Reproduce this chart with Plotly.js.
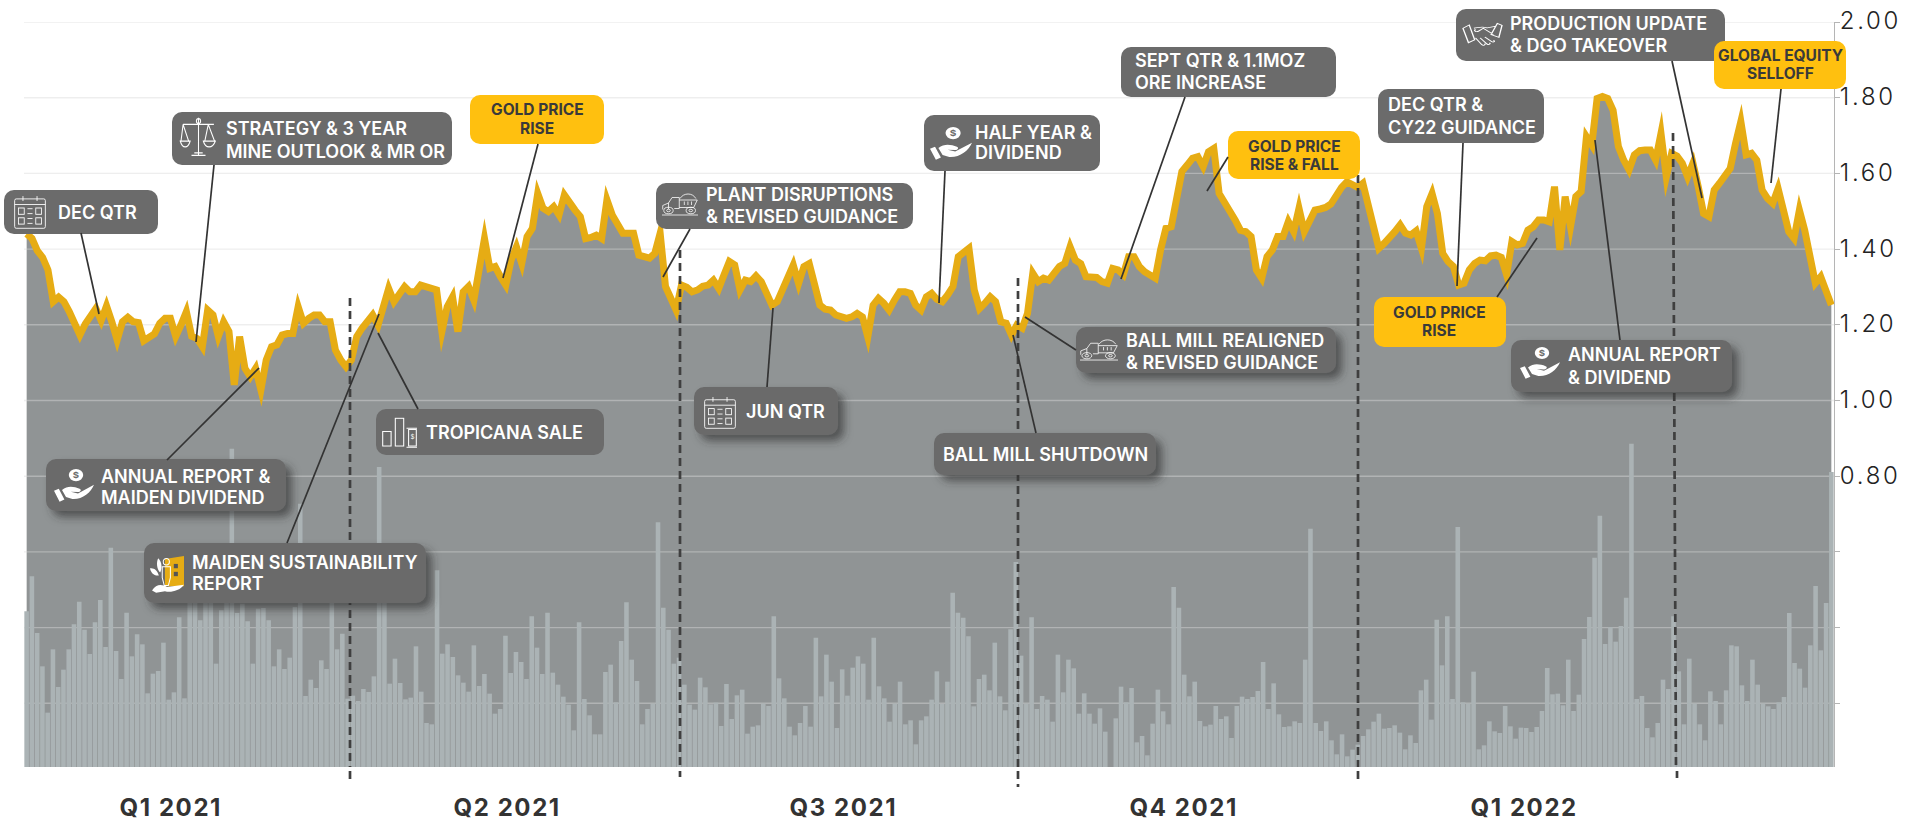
<!DOCTYPE html>
<html><head><meta charset="utf-8">
<script src="https://cdn.plot.ly/plotly-3.0.1.min.js"></script>
<style>
html,body{margin:0;padding:0;background:#fff;overflow:hidden}
#chart{width:1915px;height:823px}
.js-plotly-plot .plotly .main-svg path.js-line{stroke-miterlimit:7}
.ytick text{letter-spacing:2.7px}
</style></head><body><div id="chart"></div>
<script>
// ---------- data ----------
const price = [1.440,1.428,1.396,1.378,1.345,1.261,1.273,1.261,1.235,1.202,1.173,1.202,1.222,1.243,1.211,1.250,1.208,1.160,1.208,1.220,1.208,1.206,1.158,1.170,1.176,1.204,1.217,1.217,1.169,1.200,1.235,1.170,1.164,1.142,1.239,1.226,
1.169,1.208,1.182,1.041,1.169,1.085,1.063,1.085,1.028,1.107,1.142,1.147,1.173,1.177,1.177,1.248,1.204,1.217,1.226,1.226,1.208,1.208,1.133,1.107,1.089,1.107,1.169,1.191,1.208,1.226,1.199,1.257,1.296,1.261,1.279,
1.301,1.287,1.287,1.305,1.301,1.294,1.292,1.182,1.248,1.274,1.182,1.287,1.301,1.265,1.354,1.428,1.349,1.354,1.327,1.305,1.371,1.406,1.362,1.433,1.455,1.547,1.508,1.499,1.512,1.490,1.543,1.521,1.503,1.486,1.428,1.431,1.437,1.428,1.530,1.490,1.468,1.442,1.442,1.442,1.384,1.380,1.376,1.389,1.442,1.301,1.270,1.239,1.305,1.299,1.287,1.292,1.302,1.305,1.318,1.296,1.332,1.367,1.358,1.292,1.318,1.314,1.329,1.314,1.283,1.252,1.261,1.292,1.323,1.358,1.309,1.354,1.362,1.309,1.252,1.241,1.239,1.226,1.223,1.217,1.221,1.230,1.221,1.168,1.252,1.270,1.257,1.239,1.265,1.287,
1.287,1.283,1.252,1.239,1.274,1.283,1.267,1.261,1.279,1.301,1.380,1.393,1.402,1.292,1.243,1.257,1.274,1.261,1.208,1.204,1.173,1.199,1.191,1.230,1.336,1.314,1.323,1.318,1.336,1.354,1.362,1.406,1.371,1.362,1.327,1.327,1.325,1.314,1.310,1.349,1.345,1.332,1.380,1.380,1.354,1.340,1.329,1.323,1.398,1.455,1.459,1.530,1.605,1.622,1.640,1.644,1.618,1.657,1.666,1.547,1.525,1.503,1.477,1.450,1.446,1.433,1.345,1.323,1.380,1.398,1.433,1.433,1.473,1.446,1.508,1.446,1.477,1.503,1.506,1.510,1.519,1.543,1.563,1.578,1.569,1.563,1.574,1.521,1.455,1.402,1.415,1.428,1.446,1.464,
1.442,1.437,1.448,1.402,1.512,1.547,1.494,1.389,1.367,1.354,1.305,1.310,1.345,1.362,1.371,1.369,1.382,1.384,1.378,1.332,1.420,1.411,1.415,1.450,1.459,1.477,1.477,1.472,1.565,1.398,1.539,1.459,1.539,1.552,1.697,1.675,1.798,1.803,1.798,1.767,1.671,1.635,1.609,1.649,1.660,1.662,1.662,1.635,1.706,1.591,1.653,1.646,1.627,1.591,1.627,1.565,1.494,1.486,1.556,1.574,1.596,1.613,1.679,1.737,1.649,1.653,1.635,1.556,1.534,1.521,1.560,1.494,1.446,1.428,1.503,1.450,1.380,1.310,1.327,1.292,1.252];
const volume = [46.7,57.2,40.2,30.2,16.3,35.3,24,29.2,35.3,42.8,49.6,41.2,33.9,43.4,50.1,36,65.8,34.8,26.4,46.3,33.2,39.8,36.8,22.1,28,28.8,37.3,20.2,22.4,44.9,20.6,51,51,44,51,61,31,47,50,95.5,46.2,49,43.7,31,47.5,47.7,44,30.2,35.3,29.4,32.8,48,79,21.3,26.2,23.7,32,29.4,50,35.3,40,20.5,21.4,19.8,23.4,22.5,27.2,90,50,25,32.5,25.2,20.3,20.8,36.2,22.6,13.2,12.8,59,34,36.8,33,27.5,25.3,22.6,36.5,
24.3,27.9,22,16,17.4,39.4,28.2,34.5,31.5,26.4,45.2,35.8,27.9,46.3,28.3,24.7,21.1,18.7,11,43.4,20.4,15.5,9.8,9.8,28.5,30.7,19.4,37.8,49.4,32.2,25.8,12.8,17.4,19,73.4,47.8,41.2,31,32.8,24.7,18.7,17.2,26.8,23.9,18.8,19.3,12.3,24.9,14.4,21.5,23.2,10,12.1,12.5,19,18.3,45.2,26.6,20.6,12.1,9.5,13.2,18.3,12.1,38.8,21.2,33.7,25.6,11.7,29.3,21.4,29.8,33.2,31,20.2,38.8,24.2,20.6,13.6,19,25.6,12.8,
14,6.8,14,15.2,20.2,28.7,18.9,25.6,52.3,46.3,44.8,39.2,18.2,26.4,27.7,23,37.3,21.2,17,41.3,61.5,33.4,19,44.9,17.4,21.3,20.2,13.6,33.7,22.4,32.2,29.6,16,22.1,16,13,17.6,10.6,0,14.6,24.1,19.4,23.7,7.4,9.3,3.5,13,23.2,16.7,12.8,54,47.8,27.7,21.2,25.6,13.8,12.2,12.7,18.3,14.4,15.2,8.7,18.3,21.1,20.4,21,22.8,31.5,17.4,25.1,15.8,12,12.2,13.7,13.2,32.2,71.5,13.2,10.8,13.7,
8,3.8,9.8,3.2,5.2,6.7,9.3,11.3,13.6,16,11.5,11.7,12.5,10.3,5.3,9.5,7.2,23,26.2,14.2,44.2,30.5,45.2,20.4,72,19.4,19,28.6,5.3,6.5,13.7,10.7,10.2,18.3,12.2,8.5,11.8,11.7,10.5,12,16.8,29.7,21.8,22,18.5,32.2,16.8,21.7,38.4,45,62.8,75.4,36.9,42,37.6,42.3,50.8,97,20.4,21.3,11.7,8.9,13.2,26.2,23.4,45.2,28.7,12.8,32.5,19,12.8,8,22.7,19.8,12.8,23,36.5,36.2,24.5,19.8,32.2,24.7,19,18.2,17.4,19.4,21,46.2,31.2,29.5,23.8,36.5,54.3,35,49.2,88.5];
const yTickVals = [2,1.8,1.6,1.4,1.2,1,0.8,0.6,0.4,0.2];
const yTickText = ['2.00','1.80','1.60','1.40','1.20','1.00','0.80','','',''];
const quarterLabels = ['Q1 2021','Q2 2021','Q3 2021','Q4 2021','Q1 2022'];

// ---------- layout geometry (page pixels) ----------
const L=24,T=22,W=1810,H=745;
const px=x=>(x-L)/W, py=y=>1-(y-T)/H;
const barN=volume.length;
const barIdx=x=>(x-L)/W*barN-0.5;
const valY=y=>2-(y-22)/378.5;
const quarterLabelPos=[[170,808],[507,808],[843,808],[1183,808],[1524,808]];
const dashes=[[350,350,298,767],[680,680,250,767],[1018,1018,278,767],[1358,1358,175,767],[1673,1676,133,767]];
const dashTails=[[350,771,784],[680,771,777],[1018,771,787],[1358,771,783],[1677,771,778]];

const leaders=[[81,233,99,314],[214,165,196,342],[538,144,503,278],[259,368,167,460],[379,314,287,543],[378,333,418,409],[690,229,663,277],[773,308,767,387],[945,171,939,303],[1185,97,1121,279],[1013,335,1036,433],[1025,317,1076,350],[1228,157,1207,191],[1463,143,1457,286],[1537,238,1497,297],[1672,61,1702,198],[1781,89,1771,183],[1595,140,1620,340]];

// icons: drawn in a 100x100 box, stretched onto page rect
const ST=(sw)=>`fill="none" stroke="#fff" stroke-width="${sw}"`;
const icons={
 cal:(s)=>`<g ${ST(2.6)} vector-effect="non-scaling-stroke"><rect x="2" y="14" width="96" height="84" rx="5"/><path d="M2 30H98M28 6V20M72 6V20"/><rect x="14" y="40" width="18" height="18"/><rect x="68" y="40" width="18" height="18"/><path d="M42 42H58M42 56H58"/><rect x="14" y="68" width="18" height="18"/><rect x="68" y="68" width="18" height="18"/><path d="M42 70H58M42 84H58"/></g>`,
 hand:()=>`<circle cx="55" cy="18" r="18" fill="#fff"/><text x="55" y="27" font-family="Inter" font-size="24" font-weight="700" text-anchor="middle" fill="#6b6b6b">$</text><path fill="#fff" d="M0 64L12 58L26 90L14 96ZM20 62C34 48 50 52 64 58C70 61 66 68 60 68L42 67L60 72L100 46C92 70 70 90 46 88L30 82Z"/>`,
 truck:()=>`<g ${ST(2.6)}><path d="M0 96H100M18 72V48L28 26H48V70H34M48 36H98L88 66H48M50 30C60 6 85 6 94 30M62 42V56M72 42V56M82 42V56"/><path d="M2 74V58L18 48"/><circle cx="18" cy="78" r="13"/><circle cx="18" cy="78" r="5"/><circle cx="80" cy="78" r="13"/><circle cx="80" cy="78" r="5"/></g>`,
 shake:()=>`<g ${ST(3.5)}><path d="M0 22L16 8L30 70L14 82ZM100 10L88 2L72 48L92 60ZM28 22C44 18 48 14 62 20L82 14M78 48L52 22L40 34C34 40 26 32 32 26M32 62L48 90C52 96 58 92 56 86M44 62L62 88C66 92 72 88 68 82M56 58L74 78C78 82 84 76 78 72"/></g>`,
 scale:()=>`<g ${ST(3)}><path d="M50 4V92M30 94H70M38 88H62M6 20H94M6 20L0 60M6 20L22 60M78 20L68 60M78 20L96 60"/><path d="M-2 60C4 78 20 78 26 60ZM64 60C70 78 90 78 98 60Z"/><circle cx="50" cy="12" r="6"/></g>`,
 bars:()=>`<g ${ST(3)}><rect x="2" y="50" width="24" height="44"/><rect x="38" y="10" width="24" height="84"/><rect x="76" y="44" width="22" height="50"/><path d="M70 98H100M70 40H100"/><text x="87" y="74" font-family="Inter" font-size="18" fill="#fff" stroke="none" text-anchor="middle">$</text></g>`,
 sust:()=>`<path fill="#e6ac14" d="M44 8L100 0V84H44Z"/><rect x="70" y="22" width="12" height="12" fill="#555"/><rect x="70" y="44" width="12" height="12" fill="#555"/><g ${ST(3)}><circle cx="48" cy="16" r="9"/><path d="M36 30H60V60L54 82H42L36 60Z"/></g><path fill="#fff" d="M0 34C12 32 22 40 26 54C12 56 2 46 0 34ZM24 6C36 16 36 34 30 46C20 36 18 18 24 6ZM6 96C18 78 34 78 50 86L100 80C86 98 60 102 44 98L18 102Z"/>`
};
const callouts=[
 {b:[4,190,154,44],lines:[['DEC QTR',58,212]],ic:['cal',14,194,32,35]},
 {b:[172,112,280,53],lines:[['STRATEGY & 3 YEAR',226,128],['MINE OUTLOOK & MR OR',226,151]],ic:['scale',181,116,35,42]},
 {b:[470,95,134,49],y:1,lines:[['GOLD PRICE',537,110],['RISE',537,128]]},
 {b:[656,183,257,46],lines:[['PLANT DISRUPTIONS',706,194],['& REVISED GUIDANCE',706,217]],ic:['truck',662,191,36,25]},
 {b:[694,387,144,48],sh:1,lines:[['JUN QTR',746,411]],ic:['cal',704,395,32,34]},
 {b:[924,115,176,56],lines:[['HALF YEAR &',975,132],['DIVIDEND',975,153]],ic:['hand',930,127,42,34]},
 {b:[1121,47,215,50],lines:[['SEPT QTR & 1.1MOZ',1135,61],['ORE INCREASE',1135,83]]},
 {b:[1228,131,132,48],y:1,lines:[['GOLD PRICE',1294,146],['RISE & FALL',1294,164]]},
 {b:[1378,89,166,54],lines:[['DEC QTR &',1388,104],['CY22 GUIDANCE',1388,127]]},
 {b:[1456,9,269,52],lines:[['PRODUCTION UPDATE',1510,24],['& DGO TAKEOVER',1510,46]],ic:['shake',1463,23,39,24]},
 {b:[1714,41,132,48],y:1,lines:[['GLOBAL EQUITY',1780,56],['SELLOFF',1780,74]]},
 {b:[1374,297,132,50],y:1,lines:[['GOLD PRICE',1439,312],['RISE',1439,330]]},
 {b:[1511,340,221,52],sh:1,lines:[['ANNUAL REPORT',1568,354],['& DIVIDEND',1568,377]],ic:['hand',1520,347,40,33]},
 {b:[1076,327,260,46],sh:1,lines:[['BALL MILL REALIGNED',1126,340],['& REVISED GUIDANCE',1126,362]],ic:['truck',1080,337,38,24]},
 {b:[934,433,222,42],sh:1,lines:[['BALL MILL SHUTDOWN',943,454]]},
 {b:[376,409,228,46],sh:0,lines:[['TROPICANA SALE',426,433]],ic:['bars',382,415,35,33]},
 {b:[46,459,240,52],sh:1,lines:[['ANNUAL REPORT &',101,476],['MAIDEN DIVIDEND',101,497]],ic:['hand',54,469,40,34]},
 {b:[144,543,282,60],sh:1,lines:[['MAIDEN SUSTAINABILITY',192,562],['REPORT',192,583]],ic:['sust',150,556,34,36]}
];

const PAD=24;
function boxImage(c){
 const [x,y,w,h]=c.b, fill=c.y?'#FFC00F':'#6B6B6B';
 let svg=`<svg xmlns="http://www.w3.org/2000/svg" width="${w+2*PAD}" height="${h+2*PAD}" viewBox="${x-PAD} ${y-PAD} ${w+2*PAD} ${h+2*PAD}">`;
 if(c.sh) svg+=`<defs><filter id="s" x="-30%" y="-50%" width="160%" height="200%"><feDropShadow dx="6" dy="6" stdDeviation="4" flood-color="#2e3030" flood-opacity="0.65"/></filter></defs>`;
 svg+=`<rect x="${x}" y="${y}" width="${w}" height="${h}" rx="10" ry="10" fill="${fill}"${c.sh?' filter="url(#s)"':''}/>`;
 if(c.ic){const [n,ix,iy,iw,ih]=c.ic; svg+=`<g transform="translate(${ix} ${iy}) scale(${iw/100} ${ih/100})">${icons[n]()}</g>`;}
 svg+='</svg>';
 return {source:'data:image/svg+xml;charset=utf-8,'+encodeURIComponent(svg),xref:'paper',yref:'paper',x:px(x-PAD),y:py(y-PAD),sizex:(w+2*PAD)/W,sizey:(h+2*PAD)/H,xanchor:'left',yanchor:'top',sizing:'stretch',layer:'above'};
}

const annotations=[];
callouts.forEach(c=>c.lines.forEach(l=>annotations.push({
 text:l[0],xref:'paper',yref:'paper',x:px(l[1]-(c.y?0:2)),y:py(l[2]),xanchor:c.y?'center':'left',yanchor:'middle',showarrow:false,
 font:c.y?{family:'Inter',size:15.5,weight:700,color:'#3a3a3a'}:{family:'Inter',size:18,weight:600,color:'#fff'}
})));
quarterLabels.forEach((t,i)=>annotations.push({text:t,xref:'paper',yref:'paper',x:px(quarterLabelPos[i][0]),y:py(quarterLabelPos[i][1]),xanchor:'center',yanchor:'middle',showarrow:false,font:{family:'Inter',size:24,weight:700,color:'#333'}}));

const shapes=leaders.map(l=>({type:'line',xref:'paper',yref:'paper',x0:px(l[0]),y0:py(l[1]),x1:px(l[2]),y1:py(l[3]),line:{color:'#333',width:1.7},layer:'above'}));
dashTails.forEach(d=>shapes.push({type:'line',xref:'paper',yref:'paper',x0:px(d[0]),y0:py(d[1]),x1:px(d[0]),y1:py(d[2]),line:{color:'#3f3f3f',width:2.7,dash:'8px,5px'},layer:'above'}));

const idx=price.map((_,i)=>i);
const yRange=[valY(767),2];
const gridX=[],gridY=[];
yTickVals.forEach(v=>{gridX.push(-0.5,price.length-0.5,null);gridY.push(v,v,null);});
const dashX=[],dashY=[];
dashes.forEach(d=>{dashX.push(barIdx(d[0]),barIdx(d[1]),null);dashY.push(valY(d[2]),valY(d[3]),null);});

const traces=[
 {type:'scatter',mode:'lines',x:idx,y:price,fill:'tozeroy',fillcolor:'#909495',line:{width:0},hoverinfo:'skip'},
 {type:'scatter',mode:'lines',x:gridX,y:gridY,line:{color:'rgba(217,217,217,0.45)',width:1.4},hoverinfo:'skip'},
 {type:'scatter',mode:'lines',x:idx,y:price,line:{color:'#E6AC14',width:7},hoverinfo:'skip'},
 {type:'bar',x:volume.map((_,i)=>i),y:volume,xaxis:'x2',yaxis:'y2',marker:{color:'#ABB3B5',line:{width:0}},hoverinfo:'skip'},
 {type:'scatter',mode:'lines',x:dashX,y:dashY,xaxis:'x2',yaxis:'y3',line:{color:'#3f3f3f',width:2.7,dash:'8px,5px'},hoverinfo:'skip'}
];
const layout={
 width:1915,height:823,margin:{l:L,t:T,r:1915-L-W,b:823-T-H,pad:0},
 paper_bgcolor:'#fff',plot_bgcolor:'#fff',showlegend:false,hovermode:false,bargap:0.13,
 xaxis:{range:[-0.5,price.length-0.5],visible:false,fixedrange:true},
 xaxis2:{range:[-0.5,barN-0.5],overlaying:'x',visible:false,fixedrange:true,anchor:'y2'},
 yaxis:{range:yRange,side:'right',anchor:'x',tickmode:'array',tickvals:yTickVals,ticktext:yTickText,showgrid:false,zeroline:false,
  showline:true,linecolor:'#b5b5b5',linewidth:1,ticks:'outside',ticklen:5,tickcolor:'#b5b5b5',tickwidth:1,ticklabelstandoff:-5,ticklabelshift:-1,
  tickfont:{family:'Inter',size:24,weight:300,color:'#222'},fixedrange:true},
 yaxis2:{range:[0,223.5],overlaying:'y',visible:false,anchor:'x2',fixedrange:true},
 yaxis3:{range:yRange,overlaying:'y',visible:false,anchor:'x2',fixedrange:true},
 images:callouts.map(boxImage),annotations,shapes
};
Plotly.newPlot('chart',traces,layout,{displayModeBar:false,staticPlot:true}).then(()=>{
 document.querySelectorAll('.annotation-text').forEach(t=>{ if(/^Q\d /.test(t.textContent)) t.style.letterSpacing='1.6px'; });
});
</script></body></html>
